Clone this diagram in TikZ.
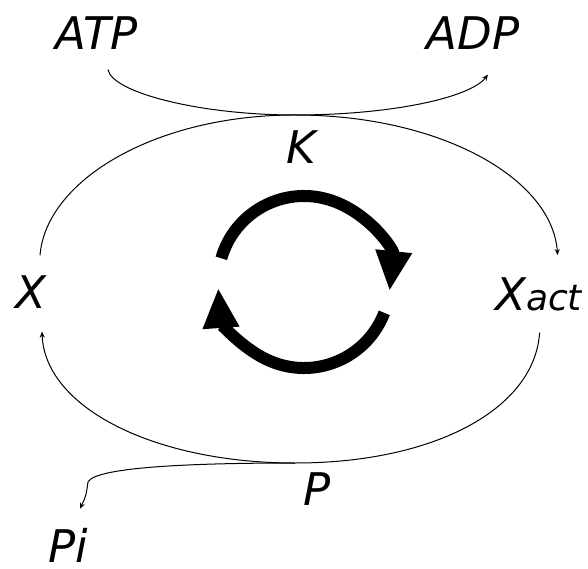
\documentclass[tikz,border=0pt]{standalone}
\usepackage{fontspec}
\setmainfont{DejaVu Sans}
\usetikzlibrary{arrows.meta}

\begin{document}
\begin{tikzpicture}[x=1pt,y=1pt,>={Stealth[length=6pt,width=5pt]}]
  \tikzstyle{lbl}=[inner sep=0pt,font=\itshape\fontsize{45}{54}\selectfont]
  \tikzstyle{thinarr}=[line width=1pt,->]
  \tikzstyle{cycarr}=[line width=12pt,-{Triangle[length=40pt,width=34pt]}]
  \useasboundingbox (0,0) rectangle (588,568);
  % labels
  \node[lbl] (atp) at (97,535) {ATP};
  \node[lbl] (adp) at (473,535) {ADP};
  \node[lbl] (k) at (301,421) {K};
  \node[lbl] (x) at (31,276) {X};
  \node[lbl,anchor=base west] (xact) at (495,258) {X{\fontsize{36}{44}\selectfont act}};
  \node[lbl] (p) at (317,79) {P};
  \node[lbl] (pi) at (68,23) {Pi};
  \coordinate (ktouch) at (295,453);
  \coordinate (ptouch) at (295,105);
  \coordinate (cyc) at (304,286);
  % kinase side
  \draw[thinarr] ([shift={(11,-20)}]atp.south) .. controls +(4,-23) and (200,453) .. (ktouch)
    .. controls (390,453) and (470,470) .. ([shift={(15,-25)}]adp.south);
  \draw[thinarr] ([shift={(9,20)}]x.north) .. controls +(6,75) and (155,453) .. (ktouch)
    .. controls (440,453) and (552,390) .. ([shift={(19,22)}]xact.north);
  % phosphatase side
  \draw[thinarr] ([shift={(1,-22)}]xact.south) .. controls +(-5,-76) and (435,105) .. (ptouch)
    .. controls (155,105) and (45,160) .. ([shift={(11,-23)}]x.south);
  \draw[thinarr] (ptouch) .. controls (180,105) and (95,100) .. (88,86)
    .. controls (86,72) .. ([shift={(12,19)}]pi.north);
  % cycle
  \draw[cycarr] ([shift={(164:86)}]cyc) arc[start angle=164,end angle=-6,radius=86];
  \draw[cycarr] ([shift={(-21:86)}]cyc) arc[start angle=-21,end angle=-176,radius=86];
\end{tikzpicture}
\end{document}
